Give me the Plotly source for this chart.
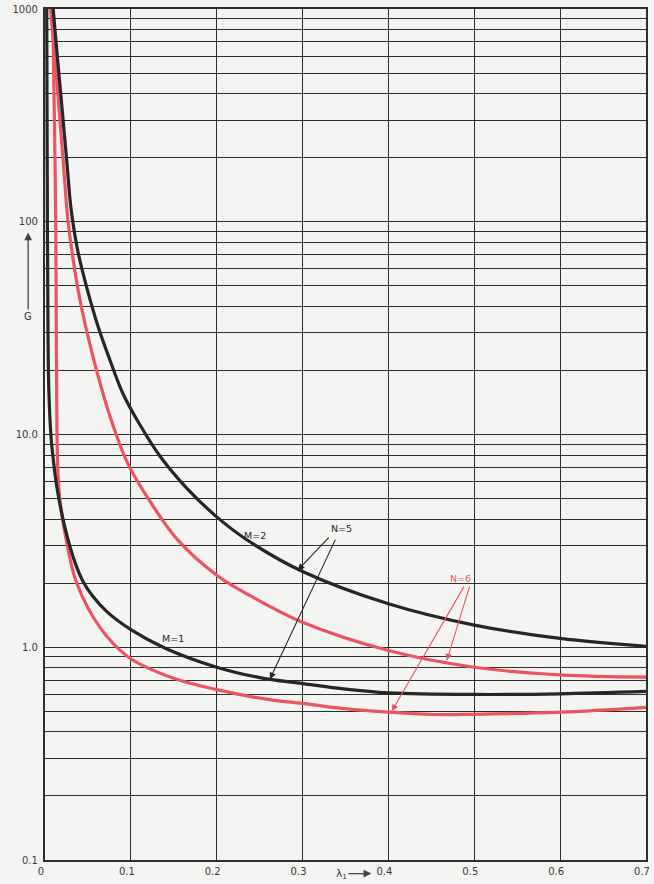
import plotly.graph_objects as go

# ---- data ----
x_m2_n5 = [0.0095, 0.015, 0.0205, 0.0255, 0.030, 0.0345, 0.0387, 0.0485, 0.062, 0.0756, 0.091, 0.110,
           0.134, 0.165, 0.20, 0.235, 0.30, 0.40, 0.50, 0.60, 0.70]
g_m2_n5 = [1000, 560, 320, 190, 118, 88, 71.3, 49.3, 32.0, 22.4, 15.5, 11.2,
           7.9, 5.6, 4.1, 3.2, 2.27, 1.6, 1.27, 1.10, 1.01]

x_m2_n6 = [0.0065, 0.0122, 0.0174, 0.0222, 0.0267, 0.0329, 0.0407, 0.0523, 0.064, 0.0777, 0.0965,
           0.126, 0.153, 0.20, 0.242, 0.30, 0.40, 0.50, 0.60, 0.70]
g_m2_n6 = [1000, 550, 300, 170, 102, 66, 43, 26.5, 17.5, 11.5, 7.3,
           4.6, 3.25, 2.18, 1.72, 1.31, 0.965, 0.805, 0.742, 0.724]

x_m1_n5 = [0.002, 0.0028, 0.0035, 0.0045, 0.007, 0.010, 0.014, 0.0198, 0.026, 0.035, 0.044, 0.055,
           0.072, 0.10, 0.14, 0.20, 0.25, 0.30, 0.35, 0.40, 0.50, 0.60, 0.70]
g_m1_n5 = [1000, 100, 30, 16, 9.8, 7.4, 5.6, 4.2, 3.3, 2.5, 2.05, 1.75,
           1.47, 1.21, 0.99, 0.806, 0.72, 0.675, 0.635, 0.61, 0.60, 0.604, 0.62]

x_m1_n6 = [0.009, 0.011, 0.0125, 0.0132, 0.0138, 0.0148, 0.0174, 0.027, 0.037, 0.064, 0.097,
           0.149, 0.20, 0.265, 0.30, 0.343, 0.40, 0.45, 0.50, 0.60, 0.70]
g_m1_n6 = [1000, 300, 100, 30, 12, 7.0, 4.92, 2.87, 2.0, 1.24, 0.90,
           0.716, 0.632, 0.564, 0.545, 0.517, 0.495, 0.483, 0.484, 0.495, 0.522]

x_ticks = [0, 0.1, 0.2, 0.3, 0.4, 0.5, 0.6, 0.7]
x_tick_labels = ["0", "0.1", "0.2", "0.3", "0.4", "0.5", "0.6", "0.7"]
y_decades = [0.1, 1, 10, 100, 1000]
y_decade_labels = ["0.1", "1.0", "10.0", "100", "1000"]

# ---- styles ----
BLACK = "#262626"
RED = "#ec5462"
GRID = "#2e2e2e"
BG = "#f4f4f2"
FONT = "DejaVu Sans"

# gridlines at 1..9 in each decade
y_ticks, y_text = [], []
for d, lab in zip(y_decades[:-1], y_decade_labels[:-1]):
    for k in range(1, 10):
        y_ticks.append(d * k)
        y_text.append(lab if k == 1 else "")
y_ticks.append(y_decades[-1])
y_text.append(y_decade_labels[-1])

fig = go.Figure()
for xs, gs, col in [(x_m2_n6, g_m2_n6, RED), (x_m1_n6, g_m1_n6, RED),
                    (x_m1_n5, g_m1_n5, BLACK), (x_m2_n5, g_m2_n5, BLACK)]:
    fig.add_trace(go.Scatter(x=xs, y=gs, mode="lines",
                             line=dict(color=col, width=3.2, shape="spline", smoothing=1.0),
                             hoverinfo="skip", showlegend=False))

fig.update_layout(
    width=654, height=884,
    margin=dict(l=45, r=8, t=9, b=24),
    paper_bgcolor=BG, plot_bgcolor=BG,
    font=dict(family=FONT, size=10, color="#333333"),
    showlegend=False,
)
fig.update_xaxes(range=[0, 0.7], tickvals=x_ticks, ticktext=x_tick_labels, automargin=False,
                 showgrid=True, gridcolor=GRID, gridwidth=1.3, zeroline=False,
                 showline=True, linecolor=GRID, linewidth=2.2, mirror=True,
                 ticks="", ticklabelshift=-4, ticklabelstandoff=1,
                 tickfont=dict(size=10, color="#3a3a3a"))
fig.update_yaxes(type="log", range=[-1, 3], tickvals=y_ticks, ticktext=y_text, automargin=False,
                 showgrid=True, gridcolor=GRID, gridwidth=1.3, zeroline=False,
                 showline=True, linecolor=GRID, linewidth=2.2, mirror=True,
                 ticks="", ticklabelstandoff=3, tickfont=dict(size=10, color="#3a3a3a"))

# text labels (y in log10 units)
labels = [("M=2", 0.2445, 0.527, BLACK), ("M=1", 0.149, 0.043, BLACK),
          ("N=5", 0.3457, 0.56, BLACK), ("N=6", 0.4843, 0.325, RED)]
for t, x, ly, c in labels:
    fig.add_annotation(x=x, y=ly, text=t, showarrow=False,
                       font=dict(size=9.5, color=c, family=FONT))

# pointer arrows (tail -> head, y in log10 units)
arrows = [((0.332, 0.522), (0.2945, 0.362), BLACK),
          ((0.339, 0.513), (0.262, -0.150), BLACK),
          ((0.495, 0.292), (0.468, -0.062), RED),
          ((0.489, 0.292), (0.404, -0.300), RED)]
for (tx, ty), (hx, hy), c in arrows:
    fig.add_annotation(x=hx, y=hy, ax=tx, ay=ty, axref="x", ayref="y", xref="x", yref="y",
                       text="", showarrow=True, arrowhead=2, arrowsize=1.2,
                       arrowwidth=1.1, arrowcolor=c, standoff=0, startstandoff=0)

# axis titles with arrows
fig.add_annotation(xref="paper", yref="y", x=-0.028, y=1.95, ax=0, ay=84,
                   text="G", showarrow=True, arrowhead=2, arrowsize=1.2, arrowwidth=1.3,
                   arrowcolor="#444444", font=dict(size=10, color="#333333", family=FONT))
fig.add_annotation(xref="paper", yref="paper", x=0.543, y=-0.016, ax=-30, ay=0,
                   text="λ<sub>1</sub>", showarrow=True, arrowhead=2, arrowsize=1.2,
                   arrowwidth=1.3, arrowcolor="#444444",
                   font=dict(size=10.5, color="#333333", family=FONT))

# remove the browser's default page margin so the figure sits at the window origin
fig.write_html("out.html", config={"displayModeBar": False},
               post_script="document.body.style.margin='0';document.body.style.overflow='hidden';")
